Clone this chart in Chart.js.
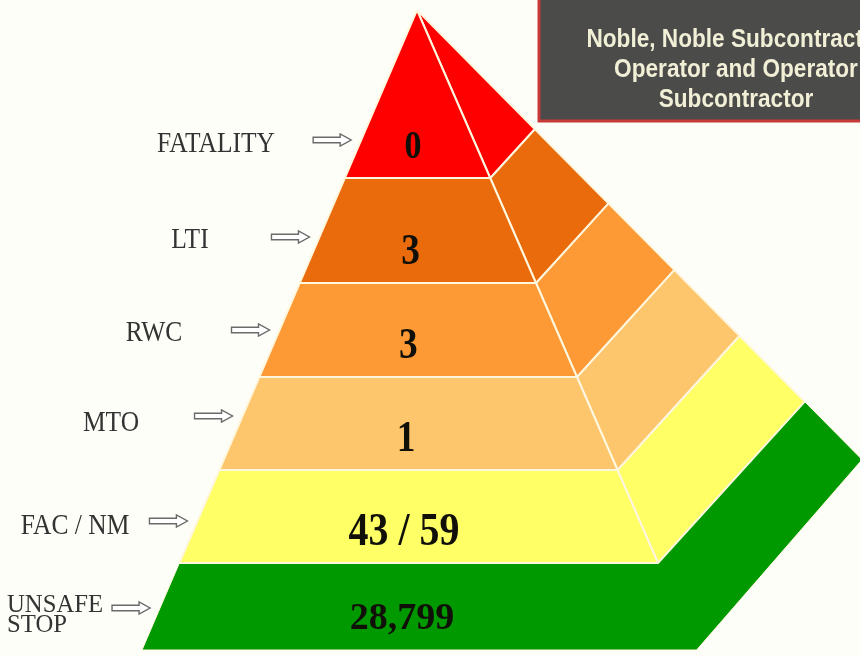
<!DOCTYPE html>
<html>
<head>
<meta charset="utf-8">
<title>Safety Pyramid</title>
<script src="https://cdn.jsdelivr.net/npm/chart.js@4.4.1/dist/chart.umd.min.js"></script>
<style>
    html, body { margin: 0; padding: 0; background: #fefef9; overflow: hidden; }
    canvas { display: block; }
</style>
</head>
<body>
<canvas id="pyramid" width="860" height="657"></canvas>
<script>
// --- data
const levelNames = ['FATALITY', 'LTI', 'RWC', 'MTO', 'FAC / NM', 'UNSAFE\nSTOP'];
const levelCounts = [0, 3, 3, 1, 43, 28799];
const nearMissCounts = [null, null, null, null, 59, null];
const scopeLines = ['Noble, Noble Subcontractor', 'Operator and Operator', 'Subcontractor'];

// --- styles
const levelColors = ['#fe0000', '#e96b0b', '#fd9a36', '#fdc66c', '#ffff66', '#009a00'];
const seamColor = '#fff6de';

// --- layout (in scale units, 1 unit = 1px)
const bandEdges = [10, 178, 283, 377, 470, 563, 650];
const labelSpots = [[216, 142], [190, 238], [154, 331], [111, 421], [75, 524], [7, 613]];
const arrowRows = [140, 237, 330, 416, 521, 608];
const valueSizes = [40, 44, 44, 44, 47, 38];
const valueSqueeze = [0.85, 0.85, 0.85, 0.85, 0.85, 1.0];

const apex = { x: 417, y: 10 };
const baseLeft = { x: 142, y: 650 };
const creaseEnd = { x: 658, y: 563 };
const outerRun = 0.99;   // dx per dy on the outer back edge
const ridgeRise = 1.1;   // dy per dx on the back face seams
const greenDepth = 58;
const greenRise = 1.15;

function leftX(y) {
    return apex.x + (baseLeft.x - apex.x) * (y - apex.y) / (baseLeft.y - apex.y);
}
function creaseX(y) {
    return apex.x + (creaseEnd.x - apex.x) * (y - apex.y) / (creaseEnd.y - apex.y);
}
function backCorner(y) {
    const ix = creaseX(y);
    const t = (apex.x + outerRun * (y - apex.y) - ix) / (1 + outerRun * ridgeRise);
    return { x: ix + t, y: y - ridgeRise * t };
}

function polygon(points, color, width) {
    return {
        data: points.concat([points[0]]),
        backgroundColor: color,
        borderColor: seamColor,
        borderWidth: width,
        borderJoinStyle: 'bevel',
        fill: 'shape',
        pointRadius: 0,
        tension: 0
    };
}

// build the faces of every level
const datasets = [];
levelNames.forEach(function (name, i) {
    const y0 = bandEdges[i], y1 = bandEdges[i + 1];
    if (i === levelNames.length - 1) {
        // base band wraps round the corner
        const bc = backCorner(y0);
        const oc = { x: bc.x + outerRun * greenDepth, y: bc.y + greenDepth };
        const br = { x: oc.x - (y1 - oc.y) / greenRise, y: y1 };
        datasets.push(polygon([
            { x: leftX(y0), y: y0 }, { x: creaseX(y0), y: y0 }, bc, oc, br, { x: leftX(y1), y: y1 }
        ], levelColors[i], 1));
        return;
    }
    let front, back;
    if (i === 0) {
        front = [apex, { x: leftX(y1), y: y1 }, { x: creaseX(y1), y: y1 }];
        back = [apex, { x: creaseX(y1), y: y1 }, backCorner(y1)];
    } else {
        front = [{ x: leftX(y0), y: y0 }, { x: creaseX(y0), y: y0 }, { x: creaseX(y1), y: y1 }, { x: leftX(y1), y: y1 }];
        back = [{ x: creaseX(y0), y: y0 }, backCorner(y0), backCorner(y1), { x: creaseX(y1), y: y1 }];
    }
    datasets.push(polygon(front, levelColors[i], 2));
    datasets.push(polygon(back, levelColors[i], 2));
});

function squeezeText(ctx, text, x, y, font, color, align, squeeze) {
    ctx.save();
    ctx.font = font;
    ctx.fillStyle = color;
    ctx.textAlign = align;
    ctx.textBaseline = 'alphabetic';
    ctx.translate(x, y);
    ctx.scale(squeeze, 1);
    ctx.fillText(text, 0, 0);
    ctx.restore();
}

function hollowArrow(ctx, tipX, y, len) {
    const head = 11, shaft = 2.8, wing = 6;
    const x0 = tipX - len, xh = tipX - head;
    ctx.save();
    ctx.beginPath();
    ctx.moveTo(x0, y - shaft);
    ctx.lineTo(xh, y - shaft);
    ctx.lineTo(xh, y - wing);
    ctx.lineTo(tipX, y);
    ctx.lineTo(xh, y + wing);
    ctx.lineTo(xh, y + shaft);
    ctx.lineTo(x0, y + shaft);
    ctx.closePath();
    ctx.fillStyle = '#ffffff';
    ctx.fill();
    ctx.lineWidth = 1.4;
    ctx.strokeStyle = '#6a6a6a';
    ctx.stroke();
    ctx.restore();
}

const pyramidText = {
    id: 'pyramidText',
    afterDatasetsDraw: function (chart) {
        const ctx = chart.ctx;
        const sx = chart.scales.x, sy = chart.scales.y;

        // level names and arrows
        levelNames.forEach(function (name, i) {
            const lines = name.split('\n');
            const spot = labelSpots[i];
            const px = sx.getPixelForValue(spot[0]);
            const stacked = lines.length > 1;
            lines.forEach(function (line, k) {
                const cy = spot[1] + (k - (lines.length - 1) / 2) * 20;
                if (stacked) {
                    squeezeText(ctx, line, px, sy.getPixelForValue(cy) + 8.5,
                        '26px "Liberation Serif"', '#333333', 'left', 0.95);
                } else {
                    squeezeText(ctx, line, px, sy.getPixelForValue(cy) + 10,
                        '30px "Liberation Serif"', '#333333', 'center', 0.85);
                }
            });
            const ay = arrowRows[i];
            hollowArrow(ctx, sx.getPixelForValue(leftX(ay) - 10), sy.getPixelForValue(ay), 38);
        });

        // counts on the front faces
        levelCounts.forEach(function (count, i) {
            let text = count.toLocaleString('en-US');
            if (nearMissCounts[i] !== null) text += ' / ' + nearMissCounts[i].toLocaleString('en-US');
            const cy = bandEdges[i + 1] - 34;
            const cx = 416 - 0.023 * (cy - 10);
            const size = valueSizes[i];
            squeezeText(ctx, text, sx.getPixelForValue(cx), sy.getPixelForValue(cy) + size * 0.34,
                'bold ' + size + 'px "Liberation Serif"', '#111008', 'center', valueSqueeze[i]);
        });

        // scope box, top right
        const bx = sx.getPixelForValue(540), by = sy.getPixelForValue(120);
        ctx.save();
        ctx.fillStyle = '#4b4b4a';
        ctx.fillRect(bx, 0, chart.width - bx, by);
        ctx.strokeStyle = '#c8393a';
        ctx.lineWidth = 3;
        ctx.beginPath();
        ctx.moveTo(bx - 1, 0);
        ctx.lineTo(bx - 1, by + 1);
        ctx.lineTo(chart.width, by + 1);
        ctx.stroke();
        ctx.restore();
        scopeLines.forEach(function (line, k) {
            squeezeText(ctx, line, sx.getPixelForValue(736), sy.getPixelForValue(47 + k * 30),
                'bold 26px "Liberation Sans"', '#f1efd6', 'center', 0.87);
        });
    }
};

new Chart(document.getElementById('pyramid'), {
    type: 'line',
    data: { datasets: datasets },
    options: {
        responsive: false,
        animation: false,
        events: [],
        layout: { padding: 0 },
        plugins: {
            legend: { display: false },
            tooltip: { enabled: false }
        },
        scales: {
            x: { type: 'linear', min: 0, max: 860, display: false },
            y: { type: 'linear', min: 0, max: 657, reverse: true, display: false }
        }
    },
    plugins: [pyramidText]
});
</script>
</body>
</html>
